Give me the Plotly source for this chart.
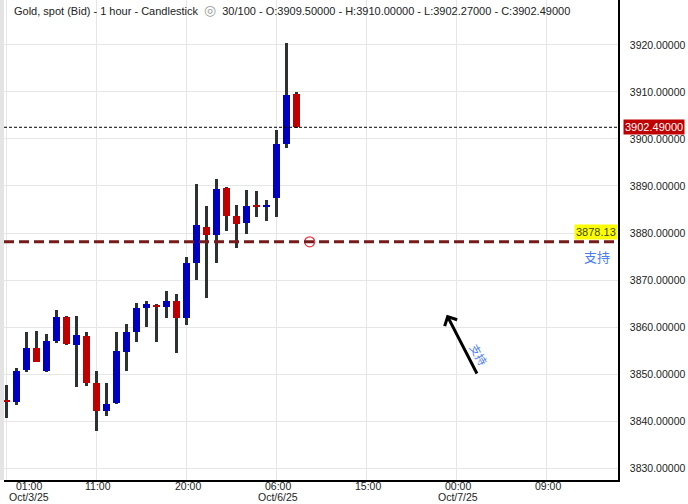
import plotly.graph_objects as go

# ---------------- data ----------------
opens = [3844.5, 3844.0, 3850.9, 3855.5, 3850.7, 3857.0, 3862.1, 3856.2, 3858.1, 3848.1,
         3842.1, 3843.8, 3854.7, 3858.9, 3864.0, 3864.7, 3864.3, 3865.5, 3861.9, 3873.7,
         3881.3, 3879.6, 3889.6, 3883.6, 3882.1, 3886.0, 3885.6, 3887.5, 3898.9, 3909.5]
highs = [3847.7, 3851.3, 3858.9, 3859.1, 3858.5, 3863.6, 3862.3, 3862.3, 3858.9, 3850.6,
         3848.1, 3858.9, 3860.6, 3865.1, 3865.5, 3864.9, 3867.7, 3867.0, 3875.0, 3890.4,
         3885.7, 3891.5, 3889.7, 3886.0, 3889.1, 3888.9, 3887.0, 3901.9, 3920.4, 3910.0]
lows = [3840.6, 3843.4, 3850.4, 3852.5, 3850.5, 3856.7, 3856.2, 3847.2, 3847.4, 3837.9,
        3841.1, 3843.6, 3850.7, 3856.8, 3860.0, 3856.8, 3861.9, 3854.5, 3860.4, 3869.9,
        3866.2, 3873.7, 3880.4, 3876.8, 3879.8, 3883.4, 3882.6, 3883.5, 3898.1, 3902.27]
closes = [3844.2, 3850.7, 3855.5, 3852.6, 3857.0, 3862.1, 3856.4, 3858.3, 3848.1, 3842.1,
          3843.6, 3854.9, 3858.9, 3864.0, 3864.9, 3864.3, 3865.5, 3861.9, 3873.7, 3881.7,
          3879.6, 3889.4, 3883.6, 3881.9, 3885.7, 3885.6, 3886.0, 3898.9, 3909.4, 3902.49]

tick_idx = [0, 9, 18, 27, 36, 45, 54]
tick_time = ["01:00", "11:00", "20:00", "06:00", "15:00", "00:00", "09:00"]
tick_date = ["Oct/3/25", "", "", "Oct/6/25", "", "Oct/7/25", ""]

last_price = 3902.49
support_price = 3878.13
support_label = "支持"
support_marker_idx = 30.3
arrow_tail = (47.1, 3849.8)
arrow_head = (44.0, 3862.6)

title_text = ("Gold, spot (Bid) - 1 hour - Candlestick&nbsp;&nbsp;"
              "<span style='color:#9a9a9a;font-size:14px'>◎</span>&nbsp;&nbsp;"
              "30/100 - O:3909.50000 - H:3910.00000 - L:3902.27000 - C:3902.49000")

# ---------------- styling ----------------
BLUE = "#0000c0"
RED = "#c00000"
WICK = "#2a3232"
GRID = "#e6e6e6"
FONT = "Liberation Sans, Arial, sans-serif"

x = list(range(len(opens)))
body_base = [min(o, c) for o, c in zip(opens, closes)]
body_h = [abs(c - o) for o, c in zip(opens, closes)]
body_col = [BLUE if c >= o else RED for o, c in zip(opens, closes)]

fig = go.Figure()
# wicks
fig.add_trace(go.Bar(x=x, base=lows, y=[h - l for h, l in zip(highs, lows)],
                     width=0.17, marker=dict(color=WICK, line=dict(width=0)),
                     hoverinfo="skip", showlegend=False))
# bodies
fig.add_trace(go.Bar(x=x, base=body_base, y=body_h, width=0.68,
                     marker=dict(color=body_col, line=dict(width=0)),
                     showlegend=False))
# support marker circle
fig.add_trace(go.Scatter(x=[support_marker_idx], y=[support_price], mode="markers",
                         marker=dict(symbol="circle-open", size=10, color="#e8343a",
                                     line=dict(width=1.2)),
                         showlegend=False, cliponaxis=False))

shapes = [
    # left gray strip
    dict(type="rect", xref="paper", yref="paper", x0=-4 / 614, x1=0, y0=0, y1=1,
         fillcolor="#e4e4e4", line=dict(width=0), layer="below"),
    # close line
    dict(type="line", xref="paper", yref="y", x0=0, x1=1, y0=last_price, y1=last_price,
         line=dict(color="#000000", width=1, dash="3px,2px")),
    # support line
    dict(type="line", xref="paper", yref="y", x0=0, x1=1, y0=support_price, y1=support_price,
         line=dict(color="#761a1a", width=3, dash="10px,5px")),
]

annotations = [
    dict(text=title_text, xref="paper", yref="paper", x=0, y=1, xanchor="left", yanchor="top",
         xshift=8, yshift=0, showarrow=False, font=dict(family=FONT, size=11, color="#222222")),
    # last price tag
    dict(text="3902.49000", xref="paper", yref="y", x=1, y=last_price, xanchor="left",
         yanchor="middle", xshift=5, showarrow=False, bgcolor=RED, borderpad=1,
         font=dict(family=FONT, size=11, color="#ffffff")),
    # support value tag
    dict(text=f"{support_price:.2f}", xref="paper", yref="y", x=1, y=support_price,
         xanchor="right", yanchor="bottom", yshift=2, showarrow=False, bgcolor="#ffff00",
         borderpad=1, font=dict(family=FONT, size=11, color="#3c4a2a")),
    dict(text=support_label, xref="paper", yref="y", x=1, y=support_price,
         xanchor="right", yanchor="top", xshift=-6, yshift=-3, showarrow=False,
         font=dict(family="Noto Sans CJK SC", size=13, color="#4a7df2")),
    # arrow
    dict(x=arrow_head[0], y=arrow_head[1], ax=arrow_tail[0], ay=arrow_tail[1],
         xref="x", yref="y", axref="x", ayref="y", text="", showarrow=True,
         arrowhead=4, arrowsize=0.9, arrowwidth=3, arrowcolor="#000000", standoff=0),
    dict(text=support_label, x=47.2, y=3854.2, xref="x", yref="y", showarrow=False,
         textangle=60, font=dict(family="Noto Sans CJK SC", size=11, color="#4a7df2")),
]

for i, (ti, tt, td) in enumerate(zip(tick_idx, tick_time, tick_date)):
    shift = 22 if i == 0 else 1
    annotations.append(dict(text=tt, x=ti, y=0, xref="x", yref="paper", xanchor="center",
                            yanchor="middle", yshift=-6, xshift=shift, showarrow=False,
                            borderpad=0, font=dict(family=FONT, size=10.5, color="#222222")))
    if td:
        annotations.append(dict(text=td, x=ti, y=0, xref="x", yref="paper", xanchor="center",
                                yanchor="middle", yshift=-17, xshift=shift, showarrow=False,
                                borderpad=0, font=dict(family=FONT, size=10.5, color="#222222")))

fig.update_layout(
    width=688, height=504,
    margin=dict(l=4, r=70, t=0, b=24, autoexpand=False),
    paper_bgcolor="#ffffff", plot_bgcolor="#ffffff",
    barmode="overlay", bargap=0,
    shapes=shapes, annotations=annotations,
    showlegend=False,
    font=dict(family=FONT, size=11, color="#222222"),
)
fig.update_xaxes(range=[-0.27, 61.13], tickvals=tick_idx, showticklabels=False,
                 showgrid=True, gridcolor=GRID, gridwidth=1, zeroline=False,
                 showline=True, linecolor="#000000", linewidth=1.5, ticks="", fixedrange=True)
fig.update_yaxes(range=[3827.45, 3929.57], side="right", dtick=10, tick0=3830,
                 tickformat=".5f", showgrid=True, gridcolor=GRID, gridwidth=1, zeroline=False,
                 showline=True, linecolor="#000000", linewidth=1.5, ticks="",
                 ticklabelstandoff=8, tickfont=dict(family=FONT, size=10.5, color="#222222"),
                 fixedrange=True)

fig.write_html("out.html", config={"displayModeBar": False},
               post_script="document.body.style.margin='0';document.body.style.overflow='hidden';")
